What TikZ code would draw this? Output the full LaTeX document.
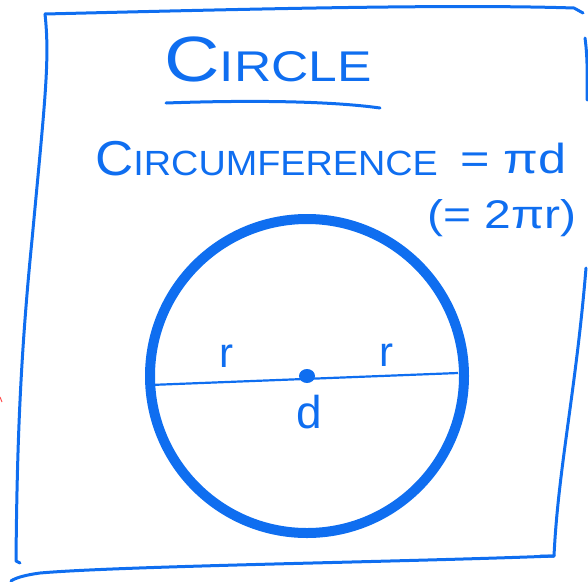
\documentclass[tikz,border=0pt]{standalone}
\usepackage{fontspec}
\setmainfont{Liberation Sans}
\usepackage{tikz}
\usepackage{xcolor}
\definecolor{penblue}{RGB}{15,110,240}

\begin{document}
\begin{tikzpicture}[x=1pt,y=-1pt,
  pen/.style={draw=penblue,line width=3pt,line cap=round,line join=round},
  hand/.style={text=penblue,inner sep=0pt}]
  \useasboundingbox (0,0) rectangle (588,581);
  % frame
  \coordinate (TL) at (45,14);
  \coordinate (TR) at (574,8);
  \coordinate (BR) at (554,556);
  \coordinate (BL) at (16,561);
  \draw[pen] (TL) .. controls (250,9) and (450,4) .. (TR) -- (583,13);
  \draw[pen] (TL) .. controls (50,60) and (45,100) .. (32,240) .. controls (20,360) and (17,450) .. (BL) -- (20,563);
  \draw[pen] (585,38) .. controls (588,60) and (587,80) .. (587,100);
  \draw[pen] (586,268) .. controls (576,390) and (558,470) .. (BR) -- (540,556);
  \draw[pen] (BR) .. controls (400,562) and (120,566) .. (40,573) .. controls (25,575) and (15,578) .. (11,581);
  \draw[red!70,line width=1pt] (0,397) -- (2,402);
  % texts
  \node[hand,anchor=base west] (title) at (164,81)
    {\scalebox{1.2}[1]{\fontsize{64}{64}\selectfont C\fontsize{43}{43}\selectfont IRCLE}};
  \draw[pen] (166,103) .. controls (250,100) and (330,101) .. (380,108);
  \node[hand,anchor=base west] (circum) at (95,175)
    {\scalebox{1.08}[1]{\fontsize{49}{49}\selectfont C\fontsize{35}{35}\selectfont IRCUMFERENCE}};
  \node[hand,anchor=base west] (pid) at (460,173)
    {\scalebox{1.2}[1]{\fontsize{42}{42}\selectfont = πd}};
  \node[hand] (twopir) at (502,218)
    {\scalebox{1.2}[1]{\fontsize{40}{40}\selectfont (= 2πr)}};
  % circle
  \coordinate (O) at (307,376);
  \coordinate (dl) at (150,385);
  \coordinate (dr) at (458,373);
  \draw[penblue,line width=10pt] (O) circle[radius=157];
  \draw[penblue,line width=2.2pt] (dl) -- (dr);
  \fill[penblue] (O) ellipse[x radius=8,y radius=7];
  \node[hand] (rl) at (226,356) {\fontsize{42}{42}\selectfont r};
  \node[hand] (rr) at (386,355) {\fontsize{42}{42}\selectfont r};
  \node[hand] (dlab) at (309,412) {\fontsize{46}{46}\selectfont d};
\end{tikzpicture}
\end{document}
